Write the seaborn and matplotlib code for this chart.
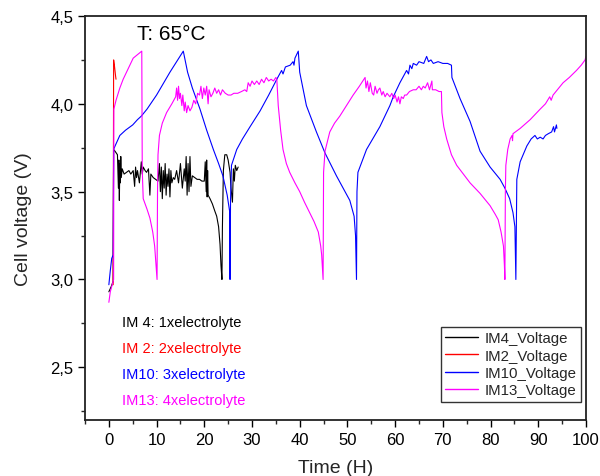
import numpy as np
import pandas as pd
import matplotlib
matplotlib.use("Agg")
import matplotlib.pyplot as plt
from matplotlib.ticker import MultipleLocator, FuncFormatter
import seaborn as sns

# ---------------- data (time [h], voltage [V]) ----------------
series_names = ["IM4_Voltage", "IM2_Voltage", "IM10_Voltage", "IM13_Voltage"]
series_colors = ["#000000", "#ff0000", "#0000ff", "#ff00ff"]

im4_points = [
    (0.0, 2.93), (0.5, 2.96), (0.9, 2.99), (1.0, 3.74), (1.3, 3.73), (1.8, 3.71), (2.0, 3.52),
    (2.1, 3.68), (2.2, 3.45), (2.3, 3.66), (2.4, 3.55), (2.5, 3.70), (2.6, 3.58), (2.8, 3.63),
    (3.2, 3.60), (3.7, 3.61), (4.2, 3.62), (4.6, 3.60), (5.1, 3.62), (5.4, 3.53), (5.6, 3.64),
    (5.8, 3.58), (6.0, 3.62), (6.4, 3.55), (6.8, 3.67), (7.0, 3.60), (7.2, 3.64), (7.6, 3.62),
    (7.9, 3.61), (8.3, 3.63), (8.6, 3.48), (8.8, 3.60), (9.3, 3.58), (9.8, 3.57), (10.3, 3.56),
    (10.6, 3.66), (10.8, 3.50), (11.0, 3.64), (11.2, 3.46), (11.4, 3.62), (11.6, 3.52), (11.8, 3.66),
    (12.0, 3.48), (12.2, 3.60), (12.4, 3.53), (12.6, 3.63), (12.8, 3.47), (13.0, 3.62), (13.2, 3.55),
    (13.5, 3.58), (13.8, 3.57), (14.2, 3.62), (14.6, 3.55), (15.0, 3.66), (15.4, 3.52), (15.8, 3.63),
    (16.0, 3.56), (16.2, 3.70), (16.4, 3.48), (16.6, 3.66), (16.8, 3.50), (17.0, 3.70), (17.2, 3.53),
    (17.5, 3.59), (18.0, 3.58), (18.5, 3.57), (19.0, 3.57), (19.5, 3.56), (20.0, 3.56), (20.2, 3.67),
    (20.4, 3.50), (20.5, 3.68), (20.6, 3.47), (20.7, 3.62), (20.8, 3.48), (21.2, 3.46), (21.7, 3.43),
    (22.2, 3.39), (22.6, 3.36), (23.0, 3.30), (23.3, 3.20), (23.5, 3.08), (23.7, 3.00), (23.8, 3.30),
    (24.0, 3.62), (24.3, 3.71), (24.7, 3.71), (25.0, 3.68), (25.4, 3.61), (25.6, 3.52), (25.9, 3.44),
    (26.1, 3.63), (26.3, 3.56), (26.5, 3.65), (26.8, 3.62), (27.1, 3.64),
]

im2_points = [(0.9, 2.97), (1.0, 4.25), (1.2, 4.21), (1.4, 4.16), (1.5, 4.14)]

im10_points = [
    (0.0, 2.97), (0.3, 3.05), (0.6, 3.12), (0.9, 3.14), (1.0, 3.74), (1.3, 3.76), (2.3, 3.82),
    (3.5, 3.85), (5.0, 3.88), (6.0, 3.91), (6.8, 3.93), (8.0, 3.97), (10.0, 4.05), (12.8, 4.18),
    (15.6, 4.30), (16.5, 4.18), (17.5, 4.09), (19.1, 3.97), (20.5, 3.85), (21.9, 3.74), (23.0, 3.66),
    (23.9, 3.59), (24.8, 3.48), (25.3, 3.39), (25.4, 3.00), (25.5, 3.45), (25.7, 3.65), (26.8, 3.74),
    (28.0, 3.80), (29.6, 3.87), (31.7, 3.96), (33.5, 4.05), (35.2, 4.14), (36.2, 4.19), (36.5, 4.17),
    (37.0, 4.21), (38.0, 4.22), (38.6, 4.24), (38.8, 4.22), (39.0, 4.26), (39.7, 4.30), (40.0, 4.18),
    (41.4, 3.99), (43.5, 3.84), (45.3, 3.72), (47.7, 3.59), (49.5, 3.50), (50.5, 3.45), (51.4, 3.36),
    (51.7, 3.25), (51.9, 3.00), (52.0, 3.50), (52.2, 3.61), (54.0, 3.74), (56.8, 3.87), (58.9, 3.99),
    (59.6, 4.04), (61.0, 4.12), (62.4, 4.19), (62.8, 4.17), (63.1, 4.22), (63.5, 4.20), (63.8, 4.23),
    (64.5, 4.22), (65.0, 4.24), (66.0, 4.23), (66.6, 4.27), (67.0, 4.24), (67.5, 4.25), (68.0, 4.23),
    (69.0, 4.24), (70.0, 4.23), (71.0, 4.23), (71.8, 4.22), (71.9, 4.15), (73.6, 4.03), (75.7, 3.90),
    (77.8, 3.73), (79.9, 3.64), (82.0, 3.57), (83.0, 3.52), (84.0, 3.46), (84.7, 3.38), (85.1, 3.30),
    (85.3, 3.00), (85.5, 3.57), (86.2, 3.67), (87.6, 3.76), (88.5, 3.80), (89.3, 3.82), (89.8, 3.80),
    (90.4, 3.81), (91.0, 3.80), (91.5, 3.82), (92.1, 3.83), (92.8, 3.84), (93.2, 3.87), (93.4, 3.84),
    (93.8, 3.88), (93.9, 3.86),
]

im13_points = [
    (0.0, 2.87), (0.3, 2.93), (0.7, 2.97), (1.0, 3.00), (1.05, 3.97), (1.5, 4.02), (2.3, 4.09),
    (3.0, 4.14), (3.7, 4.18), (5.1, 4.26), (6.0, 4.28), (6.9, 4.30), (7.0, 3.62), (7.2, 3.46),
    (8.0, 3.40), (8.6, 3.35), (9.2, 3.27), (9.6, 3.19), (9.9, 3.08), (10.1, 3.00), (10.2, 3.50),
    (10.3, 3.71), (10.6, 3.82), (11.2, 3.89), (12.1, 3.95), (13.2, 4.00), (14.0, 4.04), (14.2, 4.09),
    (14.4, 4.02), (14.6, 4.10), (14.8, 4.03), (15.0, 4.06), (15.3, 3.99), (15.5, 4.05), (15.8, 3.96),
    (16.0, 4.01), (16.3, 3.95), (16.6, 3.99), (17.0, 3.96), (17.4, 3.98), (17.8, 4.02), (18.2, 4.00),
    (18.6, 4.06), (19.0, 4.05), (19.3, 4.10), (19.6, 4.03), (19.9, 4.09), (20.2, 4.05), (20.5, 4.10),
    (20.8, 4.00), (21.0, 4.08), (21.4, 4.04), (21.8, 4.06), (22.2, 4.09), (22.6, 4.06), (23.0, 4.08),
    (23.4, 4.05), (23.8, 4.08), (24.4, 4.06), (25.0, 4.05), (25.6, 4.05), (26.2, 4.06), (27.0, 4.06),
    (27.8, 4.07), (28.5, 4.08), (28.9, 4.07), (29.2, 4.12), (29.6, 4.10), (30.0, 4.13), (30.5, 4.11),
    (31.0, 4.13), (31.5, 4.11), (32.0, 4.14), (32.5, 4.12), (33.0, 4.15), (33.5, 4.13), (34.0, 4.14),
    (34.5, 4.13), (35.0, 4.15), (35.2, 4.14), (35.5, 3.99), (36.0, 3.85), (36.5, 3.74), (37.2, 3.66),
    (37.9, 3.61), (39.0, 3.55), (40.0, 3.50), (41.0, 3.44), (42.1, 3.38), (43.0, 3.33), (43.9, 3.27),
    (44.4, 3.19), (44.6, 3.14), (44.8, 3.05), (44.9, 3.00), (45.0, 3.61), (45.3, 3.73), (46.3, 3.84),
    (47.3, 3.89), (48.4, 3.93), (49.8, 3.99), (51.2, 4.05), (52.5, 4.10), (53.7, 4.15), (53.9, 4.09),
    (54.2, 4.13), (54.5, 4.07), (54.8, 4.12), (55.2, 4.06), (55.5, 4.05), (55.8, 4.10), (56.2, 4.06),
    (56.5, 4.08), (56.8, 4.09), (57.2, 4.05), (57.5, 4.07), (57.9, 4.04), (58.3, 4.06), (58.9, 4.04),
    (59.3, 4.06), (59.7, 4.03), (60.0, 4.05), (60.4, 4.01), (60.7, 4.04), (61.0, 4.00), (61.3, 4.04),
    (61.7, 4.03), (62.0, 4.05), (62.4, 4.05), (63.0, 4.07), (63.8, 4.08), (64.4, 4.08), (65.0, 4.10),
    (65.5, 4.08), (65.9, 4.10), (66.3, 4.09), (66.8, 4.12), (67.2, 4.08), (67.7, 4.13), (67.8, 4.08),
    (68.5, 4.08), (69.2, 4.07), (69.7, 4.07), (69.8, 3.95), (69.9, 3.93), (70.2, 3.87), (70.8, 3.80),
    (71.8, 3.71), (72.9, 3.65), (74.3, 3.60), (75.7, 3.55), (77.8, 3.49), (79.9, 3.42), (81.0, 3.37),
    (81.6, 3.34), (82.2, 3.27), (82.7, 3.19), (82.9, 3.08), (83.0, 3.00), (83.1, 3.50), (83.2, 3.65),
    (83.6, 3.74), (84.1, 3.80), (84.5, 3.82), (84.6, 3.79), (84.7, 3.83), (86.2, 3.86), (88.3, 3.91),
    (90.4, 3.97), (91.5, 4.00), (92.4, 4.04), (92.7, 4.02), (93.1, 4.05), (94.0, 4.08), (95.2, 4.12),
    (96.5, 4.15), (98.0, 4.19), (99.0, 4.22), (99.8, 4.25), (100.0, 4.27),
]

annotation_labels = ["IM 4: 1xelectrolyte", "IM 2: 2xelectrolyte",
                     "IM10: 3xelectrolyte", "IM13: 4xelectrolyte"]
title_text = "T: 65°C"
x_ticks = [0, 10, 20, 30, 40, 50, 60, 70, 80, 90, 100]
y_ticks = [2.5, 3.0, 3.5, 4.0, 4.5]

# ---------------- build table ----------------
frames = []
for name, pts in zip(series_names, [im4_points, im2_points, im10_points, im13_points]):
    arr = np.array(pts)
    frames.append(pd.DataFrame({"Time": arr[:, 0], "Voltage": arr[:, 1], "Series": name}))
df = pd.concat(frames, ignore_index=True)

# ---------------- style ----------------
sns.set_style("ticks")
plt.rcParams["font.family"] = ["Liberation Sans", "DejaVu Sans"]
plt.rcParams["axes.unicode_minus"] = False

fig = plt.figure(figsize=(6.0, 4.77), dpi=100)
ax = fig.add_axes([85 / 600, 1 - 421 / 477, (586 - 85) / 600, (421 - 17) / 477])

sns.lineplot(data=df, x="Time", y="Voltage", hue="Series", hue_order=series_names,
             palette=dict(zip(series_names, series_colors)), sort=False, estimator=None,
             linewidth=0.8, ax=ax)

ax.set_xlim(-5, 100)
ax.set_ylim(2.2, 4.5)
ax.set_xticks(x_ticks)
ax.set_yticks(y_ticks)
ax.xaxis.set_minor_locator(MultipleLocator(5))
ax.yaxis.set_minor_locator(MultipleLocator(0.25))
ax.yaxis.set_major_formatter(FuncFormatter(lambda v, p: f"{v:.1f}".replace(".", ",")))
ax.tick_params(axis="both", which="major", direction="out", length=5, width=1.0,
               labelsize=12, colors="black", top=False, right=False)
ax.tick_params(axis="both", which="minor", direction="out", length=3, width=1.0,
               top=False, right=False)
for s in ax.spines.values():
    s.set_visible(True)
    s.set_color("#222222")
    s.set_linewidth(1.3)

ax.set_xlabel("Time (H)", fontsize=14, labelpad=9)
ax.set_ylabel("Cell voltage (V)", fontsize=14, labelpad=13)

ax.text(5.9, 4.398, title_text, fontsize=15, va="center", ha="left", color="black")
for lbl, col, yv in zip(annotation_labels, series_colors, [2.757, 2.609, 2.462, 2.314]):
    ax.text(2.7, yv, lbl, fontsize=10.5, color=col, va="center", ha="left")

handles, labels = ax.get_legend_handles_labels()
leg = ax.legend(handles, labels, loc="lower right", bbox_to_anchor=(0.990, 0.045),
                borderaxespad=0, fontsize=10.8, frameon=True, fancybox=False,
                edgecolor="#333333", framealpha=1, handlelength=2.2, handletextpad=0.4,
                labelspacing=0.22, borderpad=0.3, title=None)
leg.get_frame().set_linewidth(1.0)
for line in leg.get_lines():
    line.set_linewidth(1.0)

fig.savefig("out.png", dpi=100)
